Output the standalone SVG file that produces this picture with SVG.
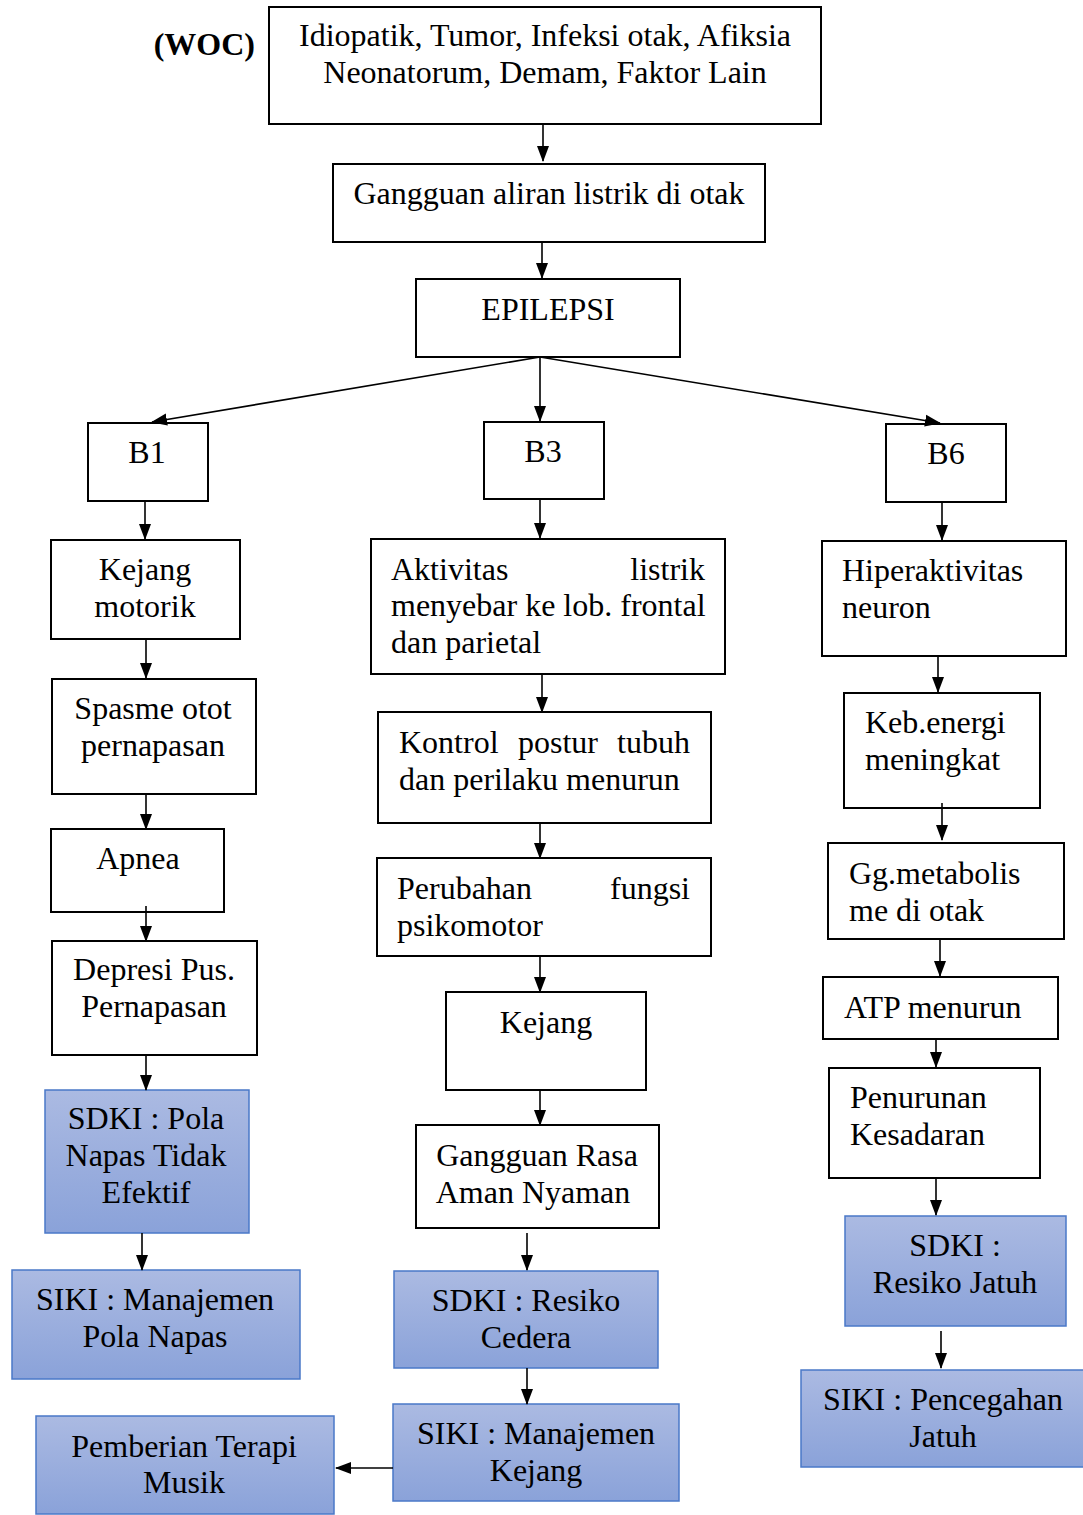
<svg xmlns="http://www.w3.org/2000/svg" width="1083" height="1515" viewBox="0 0 1083 1515">
<defs>
<linearGradient id="blue" x1="0" y1="0" x2="0" y2="1">
<stop offset="0" stop-color="#abbae2"/>
<stop offset="1" stop-color="#8aa2d9"/>
</linearGradient>
<marker id="ah" markerWidth="16" markerHeight="14" refX="15" refY="7" orient="auto" markerUnits="userSpaceOnUse">
<path d="M0,1 L16,7 L0,13 Z" fill="#000"/>
</marker>
</defs>
<style>
text{font-family:"Liberation Serif","Times New Roman",serif;font-size:32px;fill:#000}
.c{text-anchor:middle}
.e{text-anchor:end}
.box{fill:#fff;stroke:#000;stroke-width:2}
.bl{fill:url(#blue);stroke:#4a78c8;stroke-width:1.5}
.con line{stroke:#000;stroke-width:1.6;marker-end:url(#ah)}
</style>
<rect width="1083" height="1515" fill="#fff"/>
<text x="255" y="55" class="e" font-weight="bold">(WOC)</text>

<g id="n1"><rect class="box" x="269" y="7" width="552" height="117"/>
<text x="545" y="46" class="c">Idiopatik, Tumor, Infeksi otak, Afiksia</text>
<text x="545" y="83" class="c">Neonatorum, Demam, Faktor Lain</text></g>
<g id="n2"><rect class="box" x="333" y="164" width="432" height="78"/>
<text x="549" y="204" class="c">Gangguan aliran listrik di otak</text></g>
<g id="n3"><rect class="box" x="416" y="279" width="264" height="78"/>
<text x="548" y="320" class="c">EPILEPSI</text></g>
<g id="b1"><rect class="box" x="88" y="423" width="120" height="78"/>
<text x="147" y="463" class="c">B1</text></g>
<g id="b3"><rect class="box" x="484" y="422" width="120" height="77"/>
<text x="543" y="462" class="c">B3</text></g>
<g id="b6"><rect class="box" x="886" y="424" width="120" height="78"/>
<text x="946" y="464" class="c">B6</text></g>

<g id="l1"><rect class="box" x="51" y="540" width="189" height="99"/>
<text x="145" y="580" class="c">Kejang</text><text x="145" y="617" class="c">motorik</text></g>
<g id="l2"><rect class="box" x="52" y="679" width="204" height="115"/>
<text x="153" y="719" class="c">Spasme otot</text><text x="153" y="756" class="c">pernapasan</text></g>
<g id="l3"><rect class="box" x="51" y="829" width="173" height="83"/>
<text x="138" y="869" class="c">Apnea</text></g>
<g id="l4"><rect class="box" x="52" y="941" width="205" height="114"/>
<text x="154" y="980" class="c">Depresi Pus.</text><text x="154" y="1017" class="c">Pernapasan</text></g>
<g id="l5"><rect class="bl" x="45" y="1090" width="204" height="143"/>
<text x="146" y="1129" class="c">SDKI : Pola</text><text x="146" y="1166" class="c">Napas Tidak</text><text x="146" y="1203" class="c">Efektif</text></g>
<g id="l6"><rect class="bl" x="12" y="1270" width="288" height="109"/>
<text x="155" y="1310" class="c">SIKI : Manajemen</text><text x="155" y="1347" class="c">Pola Napas</text></g>
<g id="l7"><rect class="bl" x="36" y="1416" width="298" height="98"/>
<text x="184" y="1457" class="c">Pemberian Terapi</text><text x="184" y="1493" class="c">Musik</text></g>

<g id="m1"><rect class="box" x="371" y="539" width="354" height="135"/>
<text x="391" y="580">Aktivitas</text><text x="705" y="580" class="e">listrik</text>
<text x="391" y="616">menyebar ke lob. frontal</text>
<text x="391" y="653">dan parietal</text></g>
<g id="m2"><rect class="box" x="378" y="712" width="333" height="111"/>
<text x="399" y="753">Kontrol</text><text x="518" y="753">postur</text><text x="690" y="753" class="e">tubuh</text>
<text x="399" y="790">dan perilaku menurun</text></g>
<g id="m3"><rect class="box" x="377" y="858" width="334" height="98"/>
<text x="397" y="899">Perubahan</text><text x="690" y="899" class="e">fungsi</text>
<text x="397" y="936">psikomotor</text></g>
<g id="m4"><rect class="box" x="446" y="992" width="200" height="98"/>
<text x="546" y="1033" class="c">Kejang</text></g>
<g id="m5"><rect class="box" x="416" y="1125" width="243" height="103"/>
<text x="537" y="1166" class="c">Gangguan Rasa</text><text x="533" y="1203" class="c">Aman Nyaman</text></g>
<g id="m6"><rect class="bl" x="394" y="1271" width="264" height="97"/>
<text x="526" y="1311" class="c">SDKI : Resiko</text><text x="526" y="1348" class="c">Cedera</text></g>
<g id="m7"><rect class="bl" x="393" y="1404" width="286" height="97"/>
<text x="536" y="1444" class="c">SIKI : Manajemen</text><text x="536" y="1481" class="c">Kejang</text></g>

<g id="r1"><rect class="box" x="822" y="541" width="244" height="115"/>
<text x="842" y="581">Hiperaktivitas</text><text x="842" y="618">neuron</text></g>
<g id="r2"><rect class="box" x="844" y="693" width="196" height="115"/>
<text x="865" y="733">Keb.energi</text><text x="865" y="770">meningkat</text></g>
<g id="r3"><rect class="box" x="828" y="843" width="236" height="96"/>
<text x="849" y="884">Gg.metabolis</text><text x="849" y="921">me di otak</text></g>
<g id="r4"><rect class="box" x="823" y="977" width="235" height="62"/>
<text x="844" y="1018">ATP menurun</text></g>
<g id="r5"><rect class="box" x="829" y="1068" width="211" height="110"/>
<text x="850" y="1108">Penurunan</text><text x="850" y="1145">Kesadaran</text></g>
<g id="r6"><rect class="bl" x="845" y="1216" width="221" height="110"/>
<text x="955" y="1256" class="c">SDKI :</text><text x="955" y="1293" class="c">Resiko Jatuh</text></g>
<g id="r7"><rect class="bl" x="801" y="1370" width="284" height="97"/>
<text x="943" y="1410" class="c">SIKI : Pencegahan</text><text x="943" y="1447" class="c">Jatuh</text></g>

<g id="connectors" class="con">
<line x1="543" y1="124" x2="543" y2="161"/>
<line x1="542" y1="242" x2="542" y2="278"/>
<line x1="540" y1="357" x2="152" y2="422"/>
<line x1="540" y1="357" x2="540" y2="421"/>
<line x1="540" y1="357" x2="940" y2="423"/>
<line x1="145" y1="501" x2="145" y2="539"/>
<line x1="146" y1="639" x2="146" y2="678"/>
<line x1="146" y1="794" x2="146" y2="829"/>
<line x1="146" y1="906" x2="146" y2="941"/>
<line x1="146" y1="1055" x2="146" y2="1090"/>
<line x1="142" y1="1233" x2="142" y2="1270"/>
<line x1="540" y1="499" x2="540" y2="538"/>
<line x1="542" y1="674" x2="542" y2="712"/>
<line x1="540" y1="823" x2="540" y2="858"/>
<line x1="540" y1="956" x2="540" y2="992"/>
<line x1="540" y1="1090" x2="540" y2="1125"/>
<line x1="527" y1="1233" x2="527" y2="1270"/>
<line x1="527" y1="1368" x2="527" y2="1404"/>
<line x1="393" y1="1468" x2="336" y2="1468"/>
<line x1="942" y1="502" x2="942" y2="540"/>
<line x1="938" y1="656" x2="938" y2="692"/>
<line x1="942" y1="803" x2="942" y2="840"/>
<line x1="940" y1="939" x2="940" y2="976"/>
<line x1="936" y1="1039" x2="936" y2="1067"/>
<line x1="936" y1="1178" x2="936" y2="1215"/>
<line x1="941" y1="1331" x2="941" y2="1368"/>
</g>
</svg>
